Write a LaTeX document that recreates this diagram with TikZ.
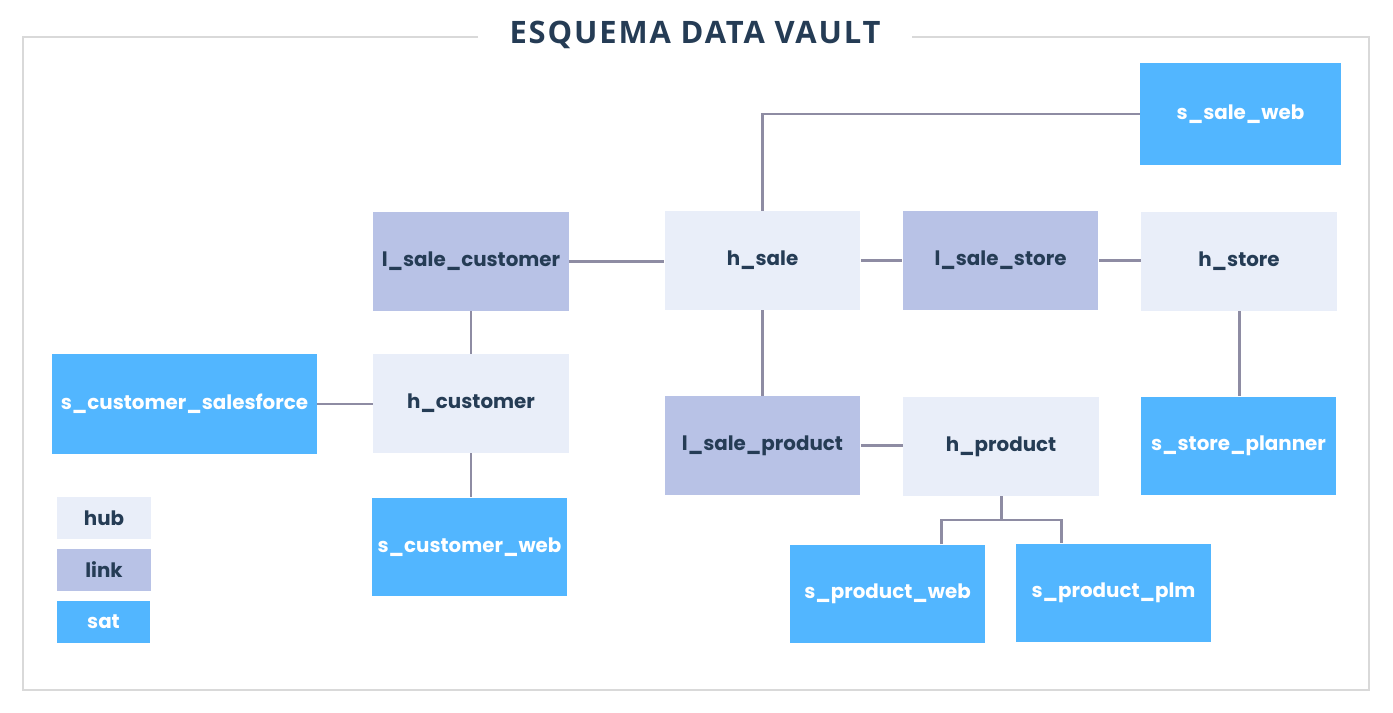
\documentclass[tikz,border=0pt]{standalone}
\usepackage{fontspec}
\setmainfont{Poppins}
\newfontfamily\titlefont[LetterSpace=6]{Open Sans}
\usetikzlibrary{positioning, calc}
\definecolor{hubcol}{HTML}{E9EEF9}
\definecolor{linkcol}{HTML}{B8C2E6}
\definecolor{satcol}{HTML}{52B6FF}
\definecolor{inkcol}{HTML}{253C55}
\definecolor{wirecol}{HTML}{8E8CA3}
\definecolor{framecol}{HTML}{D9D9D9}
\tikzset{
    box/.style={rectangle, minimum width=3.92cm, minimum height=1.98cm, inner sep=0pt,
      font=\fontsize{11.3}{14}\selectfont\bfseries},
    hubbox/.style={box, fill=hubcol, text=inkcol},
    linkbox/.style={box, fill=linkcol, text=inkcol},
    satbox/.style={box, fill=satcol, text=white},
    keybox/.style={minimum width=1.88cm, minimum height=0.84cm},
    wire/.style={draw=wirecol, line width=1.7pt},
}

\begin{document}
\begin{tikzpicture}[x=0.02cm, y=-0.02cm]
    \useasboundingbox (0,0) rectangle (1393,713);

    % frame and title
    \draw[framecol, line width=0.6pt] (478,37) -- (23,37) -- (23,690) -- (1369,690) -- (1369,37) -- (912,37);
    \node[text=inkcol, font=\titlefont\fontsize{17.6}{21}\selectfont\bfseries] (title) at (695,35) {ESQUEMA DATA VAULT};

    % hubs and links
    \node[linkbox] (l_sale_customer) at (471,261.5) {l\_sale\_customer};
    \node[hubbox] (h_sale) at (762.5,260.5) {h\_sale};
    \node[linkbox] (l_sale_store) at (1000.5,260.5) {l\_sale\_store};
    \node[hubbox] (h_store) at (1239,261.5) {h\_store};
    \node[hubbox] (h_customer) at (471,403.5) {h\_customer};
    \node[linkbox] (l_sale_product) at (762.5,445.5) {l\_sale\_product};
    \node[hubbox] (h_product) at (1001,446.5) {h\_product};

    % satellites
    \node[satbox, minimum width=4.02cm, minimum height=2.04cm] (s_sale_web) at (1240.5,114) {s\_sale\_web};
    \node[satbox, minimum width=5.3cm, minimum height=2cm] (s_customer_salesforce) at (184.5,404) {s\_customer\_salesforce};
    \node[satbox] (s_customer_web) at (469.5,547) {s\_customer\_web};
    \node[satbox] (s_store_planner) at (1238.5,446) {s\_store\_planner};
    \node[satbox] (s_product_web) at (887.5,594) {s\_product\_web};
    \node[satbox] (s_product_plm) at (1113.5,593) {s\_product\_plm};

    % legend
    \node[hubbox, keybox] (key_hub) at (104,518) {hub};
    \node[linkbox, keybox] (key_link) at (104,570) {link};
    \node[satbox, keybox] (key_sat) at (103.5,622) {sat};

    % connectors
    \draw[wire] (h_sale.north) |- (s_sale_web.west);
    \draw[wire] (l_sale_customer.east) -- (l_sale_customer.east -| h_sale.west);
    \draw[wire] (h_sale.east) -- (l_sale_store.west);
    \draw[wire] (l_sale_store.east) -- (l_sale_store.east -| h_store.west);
    \draw[wire] (l_sale_customer.south) -- (h_customer.north);
    \draw[wire] (h_customer.south) -- (h_customer.south |- s_customer_web.north);
    \draw[wire] (s_customer_salesforce.east) -- (s_customer_salesforce.east -| h_customer.west);
    \draw[wire] (h_sale.south) -- (l_sale_product.north);
    \draw[wire] (l_sale_product.east) -- (l_sale_product.east -| h_product.west);
    \draw[wire] (h_store.south) -- (h_store.south |- s_store_planner.north);

    \coordinate (fork) at (1001,520);
    \coordinate (forkL) at (941,520);
    \coordinate (forkR) at (1061,520);
    \draw[wire] (h_product.south) -- (fork);
    \draw[wire] (forkL |- s_product_web.north) -- (forkL) -- (forkR) -- (forkR |- s_product_plm.north);

\end{tikzpicture}
\end{document}
